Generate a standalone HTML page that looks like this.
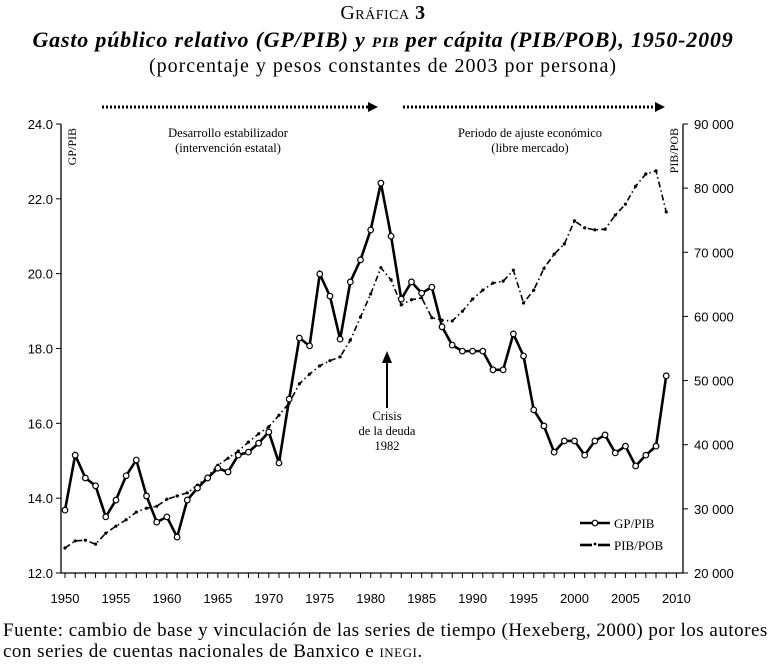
<!DOCTYPE html>
<html><head><meta charset="utf-8"><style>
body{margin:0;background:#fff;width:774px;height:664px;overflow:hidden;font-family:"Liberation Serif",serif;color:#000}
.t{position:absolute;width:774px;text-align:center;white-space:nowrap}
</style></head><body>
<div class="t" style="top:2px;font-size:20px;font-variant:small-caps;left:-4px;letter-spacing:0.5px">Gráfica <b>3</b></div>
<div class="t" style="top:27px;font-size:22px;font-weight:bold;font-style:italic;left:-4px;letter-spacing:0.8px">Gasto público relativo (GP/PIB) y <span style="font-variant:small-caps">pib</span> per cápita (PIB/POB), 1950-2009</div>
<div class="t" style="top:55px;font-size:20px;left:-4px;letter-spacing:1px">(porcentaje y pesos constantes de 2003 por persona)</div>
<svg id="c" width="774" height="664" style="position:absolute;left:0;top:0"></svg>
<div style="position:absolute;left:3px;top:620px;font-size:19px;letter-spacing:0.5px;line-height:21px;white-space:nowrap">Fuente: cambio de base y vinculación de las series de tiempo (Hexeberg, 2000) por los autores<br>con series de cuentas nacionales de Banxico e <span style="font-variant:small-caps">inegi</span>.</div>
<script>
const years=[];for(let y=1950;y<=2009;y++)years.push(y);
const gpPib=[13.68,15.15,14.54,14.33,13.5,13.95,14.6,15.02,14.06,13.36,13.5,12.96,13.95,14.27,14.54,14.8,14.7,15.15,15.23,15.47,15.77,14.94,16.65,18.28,18.07,19.99,19.4,18.25,19.78,20.37,21.17,22.42,21.0,19.32,19.78,19.48,19.64,18.58,18.09,17.93,17.93,17.93,17.43,17.43,18.39,17.8,16.36,15.93,15.23,15.53,15.53,15.15,15.53,15.69,15.21,15.39,14.86,15.15,15.39,17.27];
const pibPob=[23900,25000,25100,24500,26200,27300,28300,29500,30100,30400,31500,32000,32500,33700,35000,36800,37900,39000,40400,41700,42800,44600,46500,49500,51000,52300,53100,53700,56300,59900,63500,67600,65700,61800,62600,62900,59800,59400,59300,60800,62700,64100,65200,65500,67200,62100,64100,67500,69700,71300,74900,73800,73500,73600,75800,77500,80300,82200,82700,76300];
const leftTicks=[12,14,16,18,20,22,24];
const rightTicks=[20000,30000,40000,50000,60000,70000,80000,90000];
const xLabels=[1950,1955,1960,1965,1970,1975,1980,1985,1990,1995,2000,2005,2010];
const X=y=>65+(y-1950)*10.19;
const YL=v=>573-(v-12)/12*449;
const YR=v=>573-(v-20000)/70000*449;
const svg=document.getElementById('c');const NS='http://www.w3.org/2000/svg';
function mk(t,a,txt){const e=document.createElementNS(NS,t);for(const k in a)e.setAttribute(k,a[k]);if(txt!=null)e.textContent=txt;svg.appendChild(e);return e;}
let e;
e=mk('line',{x1:61,y1:124,x2:61,y2:573,stroke:'#000','stroke-width':1.3});
e=mk('line',{x1:683,y1:124,x2:683,y2:573,stroke:'#000','stroke-width':1.3});
e=mk('line',{x1:61,y1:573,x2:683,y2:573,stroke:'#000','stroke-width':1.3});
for(let y=1950;y<=2010;y++){e=mk('line',{x1:X(y),y1:573,x2:X(y),y2:578,stroke:'#000','stroke-width':1});}
xLabels.forEach(y=>{e=mk('text',{x:X(y),y:603,'text-anchor':'middle','font-size':13,'font-family':'Liberation Sans, sans-serif'},y);});
leftTicks.forEach(v=>{mk('line',{x1:56,y1:YL(v),x2:61,y2:YL(v),stroke:'#000'});e=mk('text',{x:53,y:YL(v)+5,'text-anchor':'end','font-size':13,'font-family':'Liberation Sans, sans-serif'},v.toFixed(1));});
rightTicks.forEach(v=>{mk('line',{x1:683,y1:YR(v),x2:688,y2:YR(v),stroke:'#000'});e=mk('text',{x:694,y:YR(v)+5,'font-size':13,'font-family':'Liberation Sans, sans-serif'},(v/1000)+' 000');});
e=mk('text',{transform:'translate(76,128) rotate(-90)','text-anchor':'end','font-size':12},'GP/PIB');
e=mk('text',{transform:'translate(678,128) rotate(-90)','text-anchor':'end','font-size':12},'PIB/POB');
[[102,368],[403,655]].forEach(a=>{mk('line',{x1:a[0],y1:107,x2:a[1],y2:107,stroke:'#000','stroke-width':3,'stroke-dasharray':'2,2'});e=mk('polygon',{points:`${a[1]},102 ${a[1]+10},107 ${a[1]},112`,fill:'#000'});});
[['Desarrollo estabilizador',228,137],['(intervención estatal)',228,152],['Periodo de ajuste económico',530,137],['(libre mercado)',530,152],['Crisis',387,420],['de la deuda',387,435],['1982',387,450]].forEach(t=>{e=mk('text',{x:t[1],y:t[2],'text-anchor':'middle','font-size':12.5},t[0]);});
mk('line',{x1:387,y1:408,x2:387,y2:362,stroke:'#000','stroke-width':2});
e=mk('polygon',{points:'382,363 387,351 392,363',fill:'#000'});
e=mk('polyline',{points:years.map((y,i)=>X(y)+','+YR(pibPob[i])).join(' '),fill:'none',stroke:'#000','stroke-width':1.6,'stroke-dasharray':'6,3,1.5,3'});
years.forEach((y,i)=>{e=mk('circle',{cx:X(y),cy:YR(pibPob[i]),r:1.6,fill:'#000'});});
e=mk('polyline',{points:years.map((y,i)=>X(y)+','+YL(gpPib[i])).join(' '),fill:'none',stroke:'#000','stroke-width':2.6});
years.forEach((y,i)=>{e=mk('circle',{cx:X(y),cy:YL(gpPib[i]),r:2.8,fill:'#fff',stroke:'#000','stroke-width':1.2});});
mk('line',{x1:580,y1:523,x2:610,y2:523,stroke:'#000','stroke-width':2.6});
mk('circle',{cx:595,cy:523,r:2.8,fill:'#fff',stroke:'#000','stroke-width':1.2});
e=mk('text',{x:614,y:528,'font-size':13},'GP/PIB');
mk('line',{x1:580,y1:545,x2:592,y2:545,stroke:'#000','stroke-width':2.6});
mk('line',{x1:598,y1:545,x2:610,y2:545,stroke:'#000','stroke-width':2.6});
mk('circle',{cx:595,cy:544,r:1.4,fill:'#000'});
e=mk('text',{x:614,y:550,'font-size':13},'PIB/POB');
</script>
</body></html>
